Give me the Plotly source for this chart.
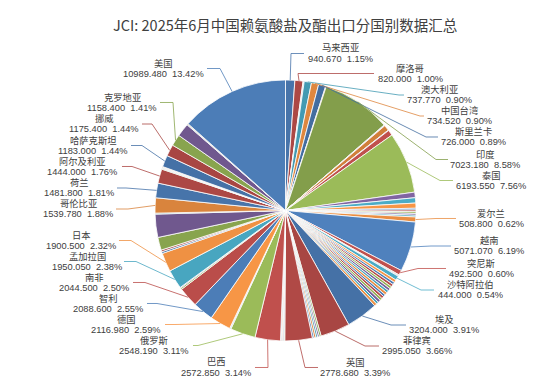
import math
import plotly.graph_objects as go

W, H = 554, 382

# ---------------- data (clockwise from 12 o'clock; "" = slice without label) -------------
countries = [
    "马来西亚", "摩洛哥", "", "", "澳大利亚", "中国台湾", "斯里兰卡", "", "印度",
    "", "", "", "", "", "泰国",
    "", "", "", "", "", "", "", "", "爱尔兰",
    "越南", "突尼斯", "", "", "沙特阿拉伯",
    "", "", "", "", "", "", "", "", "", "", "", "", "",
    "埃及", "菲律宾", "", "", "", "", "", "英国",
    "", "", "", "", "", "巴西", "俄罗斯", "", "", "德国", "智利", "南非", "", "",
    "孟加拉国", "日本", "", "", "", "", "", "哥伦比亚", "荷兰", "阿尔及利亚",
    "", "", "", "", "哈萨克斯坦", "挪威", "克罗地亚", "", "", "", "美国",
]
values = [
    940.67, 820.0, 60, 60, 737.77, 734.52, 726.0, 60, 7023.18,
    50, 50, 560, 50, 560, 6193.55,
    560, 540, 520, 175, 175, 175, 175, 175, 508.8,
    5071.07, 492.5, 80, 80, 444.0,
    280, 250, 270, 240, 260, 250, 270, 230, 260, 250, 270, 240, 270,
    3204.0, 2995.05, 190, 170, 180, 190, 170, 2778.68,
    80, 90, 80, 100, 80, 2572.85, 2548.19, 70, 70, 2116.98, 2088.6, 2044.5, 150, 80,
    1950.05, 1900.5, 180, 180, 1300, 2350, 100, 1539.78, 1481.8, 1444.0,
    70, 65, 70, 65, 1183.0, 1175.4, 1158.4, 1350, 70, 70, 10989.48,
]
assert len(countries) == len(values)

title_text = "JCI: 2025年6月中国赖氨酸盐及酯出口分国别数据汇总"

# ---------------- styles / layout ----------------
base_colors = [(79, 129, 189), (192, 80, 77), (155, 187, 89),
               (128, 100, 162), (75, 172, 198), (247, 150, 70)]
cycle_shade = [0.9, 0.85, 1.0, 0.95, 1.0, 0.95, 0.95, 0.88, 0.92, 1.0, 0.97, 0.88, 0.9, 0.88, 0.97]


def slice_color(i):
    r, g, b = base_colors[i % 6]
    f = cycle_shade[(i // 6) % len(cycle_shade)]
    return "rgb(%d,%d,%d)" % (min(255, r * f), min(255, g * f), min(255, b * f))


colors = [slice_color(i) for i in range(len(values))]

# pie geometry in pixels
CX, CY, R = 277.5, 202.5, 130.5

# label layout: label centre x, label centre y, leader anchor x, elbow length (px)
label_layout = {
    "马来西亚": (332, 45.5, 296, 13),
    "摩洛哥": (402, 65.5, 366, 76),
    "澳大利亚": (431, 87, 396, 5),
    "中国台湾": (451, 108, 416, 4),
    "斯里兰卡": (465, 129, 430, 12),
    "印度": (477, 151.5, 440, 12),
    "泰国": (483, 172.5, 445, 13),
    "爱尔兰": (483, 210.5, 448, 20),
    "越南": (481, 238, 443, 20),
    "突尼斯": (473, 260.5, 438, 28),
    "沙特阿拉伯": (462, 282, 426, 13),
    "埃及": (436, 317, 398, 15),
    "菲律宾": (409, 338, 371, 14),
    "英国": (347, 359.5, 310, 13),
    "巴西": (208, 359.5, 247, 13),
    "俄罗斯": (146, 337.5, 185, 5),
    "德国": (118, 316.5, 157, 10),
    "智利": (100, 295.5, 139, 10),
    "南非": (86, 274.5, 125, 12),
    "孟加拉国": (79, 253.5, 116, 12),
    "日本": (73, 232.5, 111, 12),
    "哥伦比亚": (70, 201, 108, 12),
    "荷兰": (71, 180, 109, 9),
    "阿尔及利亚": (74, 158.5, 114, 10),
    "哈萨克斯坦": (85, 137.5, 123, 11),
    "挪威": (96, 116, 134, 10),
    "克罗地亚": (114, 94.5, 152, 13),
    "美国": (155, 60.5, 199, 13),
}
LINE_GAP = 10.5

LABEL_FONT = "Liberation Sans, Noto Sans CJK SC, sans-serif"
TITLE_FONT = "Noto Sans CJK SC, sans-serif"
TXT = "#404040"


def px(x):
    return x / W


def py(y):
    return 1 - y / H


total = sum(values)
pie_labels = [c if c else "其他%d" % i for i, c in enumerate(countries)]

fig = go.Figure(go.Pie(
    labels=pie_labels, values=values, sort=False, direction="clockwise", rotation=0,
    textinfo="none", hoverinfo="label+value+percent",
    marker=dict(colors=colors, line=dict(color="white", width=0.8)),
    domain=dict(x=[px(CX - R), px(CX + R)], y=[py(CY + R), py(CY - R)]),
    showlegend=False,
))

annotations = []
shapes = []
cum = 0.0
for i, (name, v) in enumerate(zip(countries, values)):
    mid = (cum + v / 2) / total * 2 * math.pi
    cum += v
    if not name:
        continue
    lx, ly, ax, el = label_layout[name]
    ex = CX + R * math.sin(mid)
    ey = CY - R * math.cos(mid)
    bx = ax + el if ax < CX else ax - el
    path = "M %f %f L %f %f L %f %f" % (px(ax), py(ly), px(bx), py(ly), px(ex), py(ey))
    shapes.append(dict(type="path", path=path, xref="paper", yref="paper",
                       line=dict(color=colors[i], width=0.8)))
    annotations.append(dict(x=px(lx), y=py(ly - LINE_GAP / 2), xref="paper", yref="paper",
                            text=name, showarrow=False, xanchor="center", yanchor="middle",
                            font=dict(family=LABEL_FONT, size=9.3, color=TXT)))
    annotations.append(dict(x=px(lx), y=py(ly + LINE_GAP / 2), xref="paper", yref="paper",
                            text="%.3f \u00a0%.2f%%" % (v, v / total * 100),
                            showarrow=False, xanchor="center", yanchor="middle",
                            font=dict(family=LABEL_FONT, size=9.3, color=TXT)))

annotations.append(dict(x=px(277), y=py(16), xref="paper", yref="paper", text=title_text,
                        showarrow=False, xanchor="center", yanchor="middle",
                        font=dict(family=TITLE_FONT, size=14.5, color=TXT)))

fig.update_layout(
    width=W, height=H, autosize=False,
    margin=dict(l=0, r=0, t=0, b=0),
    paper_bgcolor="white", plot_bgcolor="white",
    annotations=annotations, shapes=shapes,
)

fig.write_html("out.html")
